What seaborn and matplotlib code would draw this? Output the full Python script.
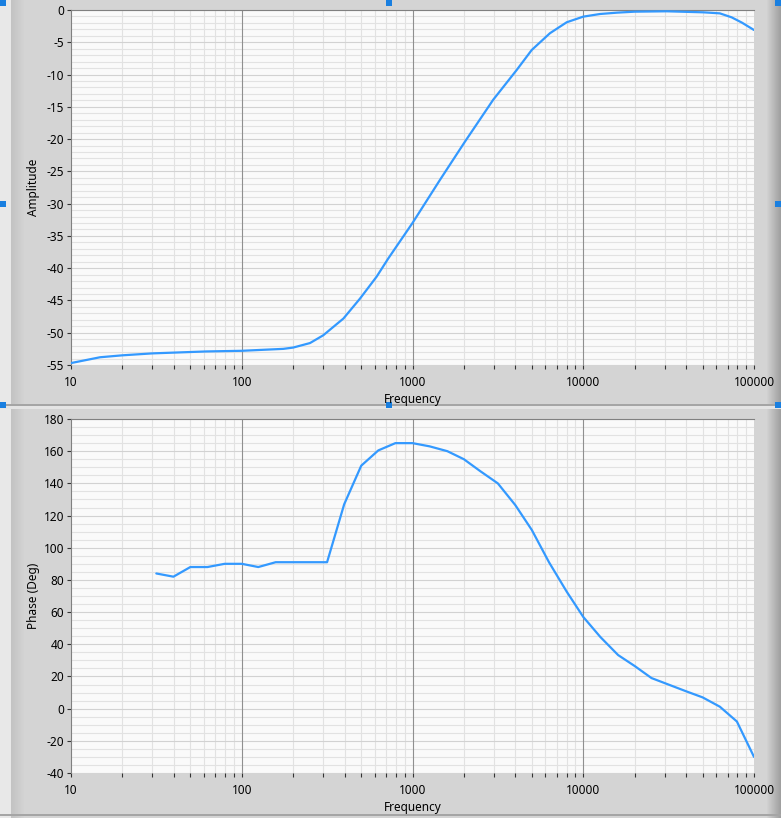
import matplotlib
matplotlib.use("Agg")
import matplotlib.pyplot as plt
import matplotlib.ticker as mticker
import seaborn as sns
import pandas as pd
import numpy as np

# values
amp_freq = [10, 14.8, 20, 30, 62, 100, 175, 200, 251, 300, 394, 493, 617, 721,
            1000, 1450, 2028, 2970, 4074, 4990, 6380, 8000, 10000, 12530, 15800,
            20000, 30800, 50500, 63100, 74000, 85000, 100000]
amp_db = [-54.7, -53.8, -53.5, -53.2, -52.9, -52.8, -52.5, -52.3, -51.6, -50.4,
          -47.8, -44.7, -41.3, -38.5, -33.0, -26.3, -20.4, -13.9, -9.3, -6.2,
          -3.6, -1.9, -1.03, -0.62, -0.41, -0.26, -0.2, -0.36, -0.52, -1.14,
          -1.96, -3.1]

ph_freq = [31.6, 39.8, 50, 63, 79.4, 100, 125, 158, 316, 398, 501, 631, 794,
           1000, 1260, 1600, 2000, 2500, 3160, 4000, 5000, 6300, 8000, 10000,
           12600, 16000, 20000, 25100, 40000, 50000, 63100, 79400, 100000]
ph_deg = [84, 82, 88, 88, 90, 90, 88, 91, 91, 127, 151, 160.5, 165, 165, 163,
          160, 155, 147.5, 140, 126.5, 111, 91, 72.7, 57, 44.5, 33.3, 26.5, 19,
          10.8, 7.0, 1.2, -8, -30]

freq_ticks = [10, 100, 1000, 10000, 100000]
freq_labels = ["10", "100", "1000", "10000", "100000"]

amp_df = pd.DataFrame({"Frequency": amp_freq, "Amplitude": amp_db})
ph_df = pd.DataFrame({"Frequency": ph_freq, "Phase (Deg)": ph_deg})

sns.set_theme(style="ticks")
plt.rcParams["font.family"] = ["Noto Sans", "DejaVu Sans"]
plt.rcParams["axes.unicode_minus"] = False

W, H = 781, 818
fig = plt.figure(figsize=(W / 100, H / 100), dpi=100)

# LabVIEW-ish panel background
bg = np.full((H, W), 212.0)
bg[:, :11] = 232
bg[:, 11:25] = np.linspace(195, 212, 14)[None, :]
bg[:, 766:] = np.linspace(212, 160, W - 766)[None, :]
bg[404:406, :] = 165
bg[406:409, :] = 228
bg[814:816, :] = 165
rgb = np.repeat((bg / 255.0)[:, :, None], 3, axis=2)
handle = np.array([0.1, 0.5, 0.88])
for hx, hy in [(0, 0), (386, 0), (775, 0), (0, 201), (775, 201),
               (0, 402), (386, 402), (775, 402)]:
    rgb[hy:hy + 6, hx:hx + 6] = handle
fig.figimage(rgb, xo=0, yo=0, origin="upper", zorder=-1)

line_color = "#3399ff"


def style_axis(ax, ymin, ymax, major, minor, ylabel):
    ax.set_facecolor("#fafafa")
    ax.set_xscale("log")
    ax.set_xlim(10, 100000)
    ax.set_ylim(ymin, ymax)
    ax.xaxis.set_major_locator(mticker.FixedLocator(freq_ticks))
    ax.xaxis.set_major_formatter(mticker.FixedFormatter(freq_labels))
    ax.xaxis.set_minor_locator(mticker.LogLocator(base=10, subs=np.arange(2, 10)))
    ax.xaxis.set_minor_formatter(mticker.NullFormatter())
    ax.yaxis.set_major_locator(mticker.MultipleLocator(major))
    ax.yaxis.set_minor_locator(mticker.MultipleLocator(minor))
    ax.yaxis.set_major_formatter(mticker.FuncFormatter(lambda v, p: "%d" % v))

    ax.grid(which="minor", axis="both", color="#e2e2e2", linewidth=0.8, linestyle="-")
    ax.grid(which="major", axis="y", color="#d2d2d2", linewidth=0.8, linestyle="-")
    ax.grid(which="major", axis="x", visible=False)
    ax.set_axisbelow(True)
    # decade lines sit above the light grid, below the curve
    for f in freq_ticks[1:-1]:
        ax.axvline(f, color="#8f8f8f", linewidth=0.8, zorder=1.5)

    for s in ["right", "bottom"]:
        ax.spines[s].set_visible(False)
    for s in ["top", "left"]:
        ax.spines[s].set_color("#808080")
        ax.spines[s].set_linewidth(0.8)

    ax.tick_params(axis="x", which="major", length=3, width=0.8, color="#333333",
                   labelsize=8.5, pad=5, labelcolor="black")
    ax.tick_params(axis="x", which="minor", length=3, width=0.8, color="#333333")
    ax.tick_params(axis="y", which="major", length=3, width=0.8, color="#333333",
                   labelsize=8.5, pad=2, labelcolor="black")
    ax.tick_params(axis="y", which="minor", length=0)

    ax.set_xlabel("Frequency", fontsize=8.5, color="black")
    ax.set_ylabel(ylabel, fontsize=8.5, color="black")
    ax.xaxis.set_label_coords(0.5, -0.078)
    ax.yaxis.set_label_coords(-0.045, 0.5)


ax1 = fig.add_axes([71 / W, 1 - 365 / H, 683 / W, 355 / H])
sns.lineplot(data=amp_df, x="Frequency", y="Amplitude", ax=ax1,
             color=line_color, linewidth=1.6, zorder=3)
style_axis(ax1, -55, 0, 5, 1, "Amplitude")

ax2 = fig.add_axes([71 / W, 1 - 773 / H, 683 / W, 354 / H])
sns.lineplot(data=ph_df, x="Frequency", y="Phase (Deg)", ax=ax2,
             color=line_color, linewidth=1.6, zorder=3)
style_axis(ax2, -40, 180, 20, 5, "Phase (Deg)")

fig.savefig("out.png", dpi=100)
plt.close(fig)
